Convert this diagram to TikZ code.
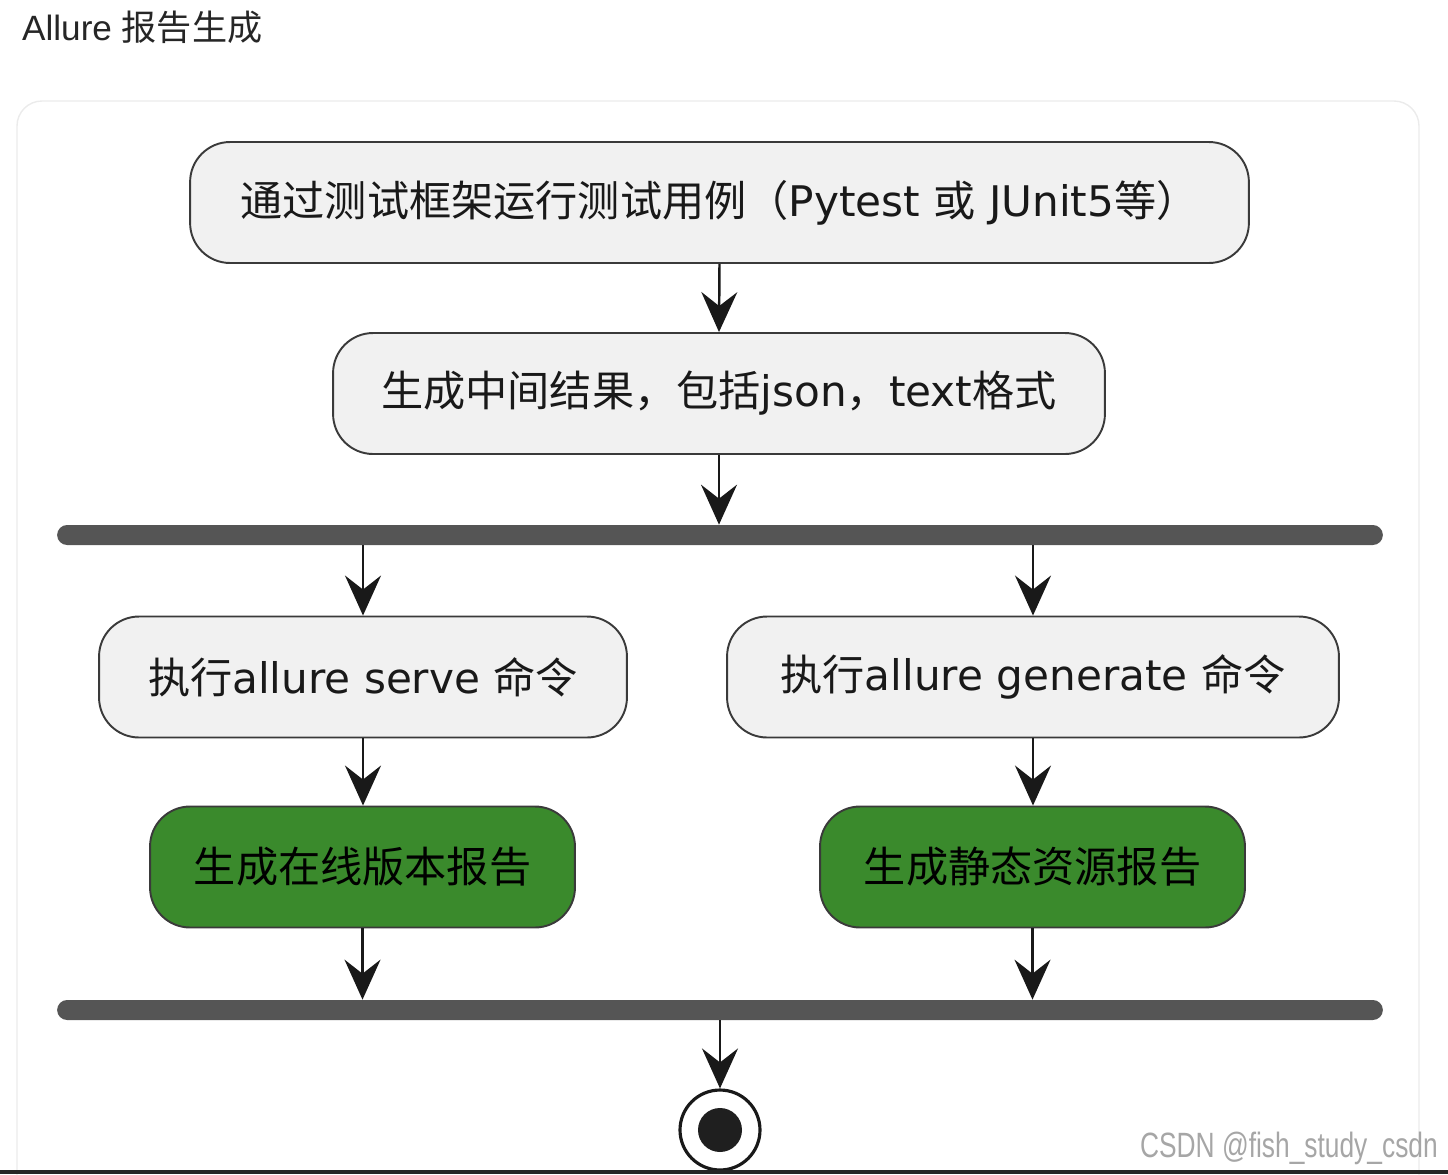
\documentclass[tikz,border=0pt]{standalone}
\usepackage{fontspec}
\setmainfont{DejaVu Sans}
\newfontfamily\cjk{Noto Sans CJK SC}
\newfontfamily\titlefont{Liberation Sans}
\newfontfamily\markfont[FakeStretch=0.75]{Liberation Sans}
\usepackage{tikz}
\usetikzlibrary{arrows.meta}
\definecolor{boxfill}{HTML}{F1F1F1}
\definecolor{boxline}{HTML}{3A3A3A}
\definecolor{donegreen}{HTML}{3A8A2C}
\definecolor{barcol}{HTML}{555555}

\begin{document}
\begin{tikzpicture}[x=0.02cm,y=-0.02cm,font=\fontsize{24}{28}\selectfont,
  actbox/.style={draw=boxline,line width=1.1pt,fill=boxfill,rounded corners=0.8cm,minimum height=2.42cm,inner sep=0pt,text=black!90},
  donebox/.style={actbox,fill=donegreen,text=black},
  forkbar/.style={fill=barcol,rounded corners=0.2cm,minimum width=26.52cm,minimum height=0.4cm,inner sep=0pt},
  flow/.style={-{Stealth[length=0.8cm,width=0.72cm,inset=0.28cm]},line width=1.4pt,draw=black!90}]
\useasboundingbox (0,0) rectangle (1448,1174);
\draw[black!8,line width=0.8pt,rounded corners=0.5cm] (17,101) rectangle (1419,1200);
\node[anchor=west,font=\titlefont\fontsize{20}{24}\selectfont,text=black!85] (title) at (16,27) {Allure {\cjk 报告生成}};
\node[actbox,minimum width=21.18cm] (run) at (719.5,202.5) {{\cjk 通过测试框架运行测试用例（}Pytest {\cjk 或} JUnit5{\cjk 等）}};
\node[actbox,minimum width=15.44cm] (mid) at (719,393.5) {{\cjk 生成中间结果，包括}json{\cjk ，}text{\cjk 格式}};
\node[forkbar] (fork) at (720,535) {};
\node[actbox,minimum width=10.56cm] (serve) at (363,677) {{\cjk 执行}allure serve {\cjk 命令}};
\node[actbox,minimum width=12.24cm] (gen) at (1033,677) {{\cjk 执行}allure generate {\cjk 命令}};
\node[donebox,minimum width=8.5cm] (online) at (362.5,867) {\cjk 生成在线版本报告};
\node[donebox,minimum width=8.5cm] (static) at (1032.5,867) {\cjk 生成静态资源报告};
\node[forkbar] (join) at (720,1010) {};
\node[circle,draw=black!90,line width=1.8pt,fill=white,minimum size=1.6cm,inner sep=0pt] (stop) at (720,1130) {};
\node[circle,fill=black!88,minimum size=0.88cm,inner sep=0pt] (stopdot) at (stop) {};
\draw[flow] (run.south) -- (mid.north);
\draw[flow] (mid.south) -- (mid.south |- fork.north);
\foreach \a/\b in {serve/online,gen/static}{
  \draw[flow] (fork.south -| \a) -- (\a.north);
  \draw[flow] (\a.south) -- (\a.south |- \b.north);
  \draw[flow] (\b.south) -- (\b.south |- join.north);}
\draw[flow] (join.south) -- (stop.north);
\node[anchor=east,font=\markfont\fontsize{20}{24}\selectfont,text=black!35] (mark) at (1444,1148) {CSDN @fish\_study\_csdn};
\fill[black!85] (0,1170) rectangle (1448,1174);
\end{tikzpicture}
\end{document}
